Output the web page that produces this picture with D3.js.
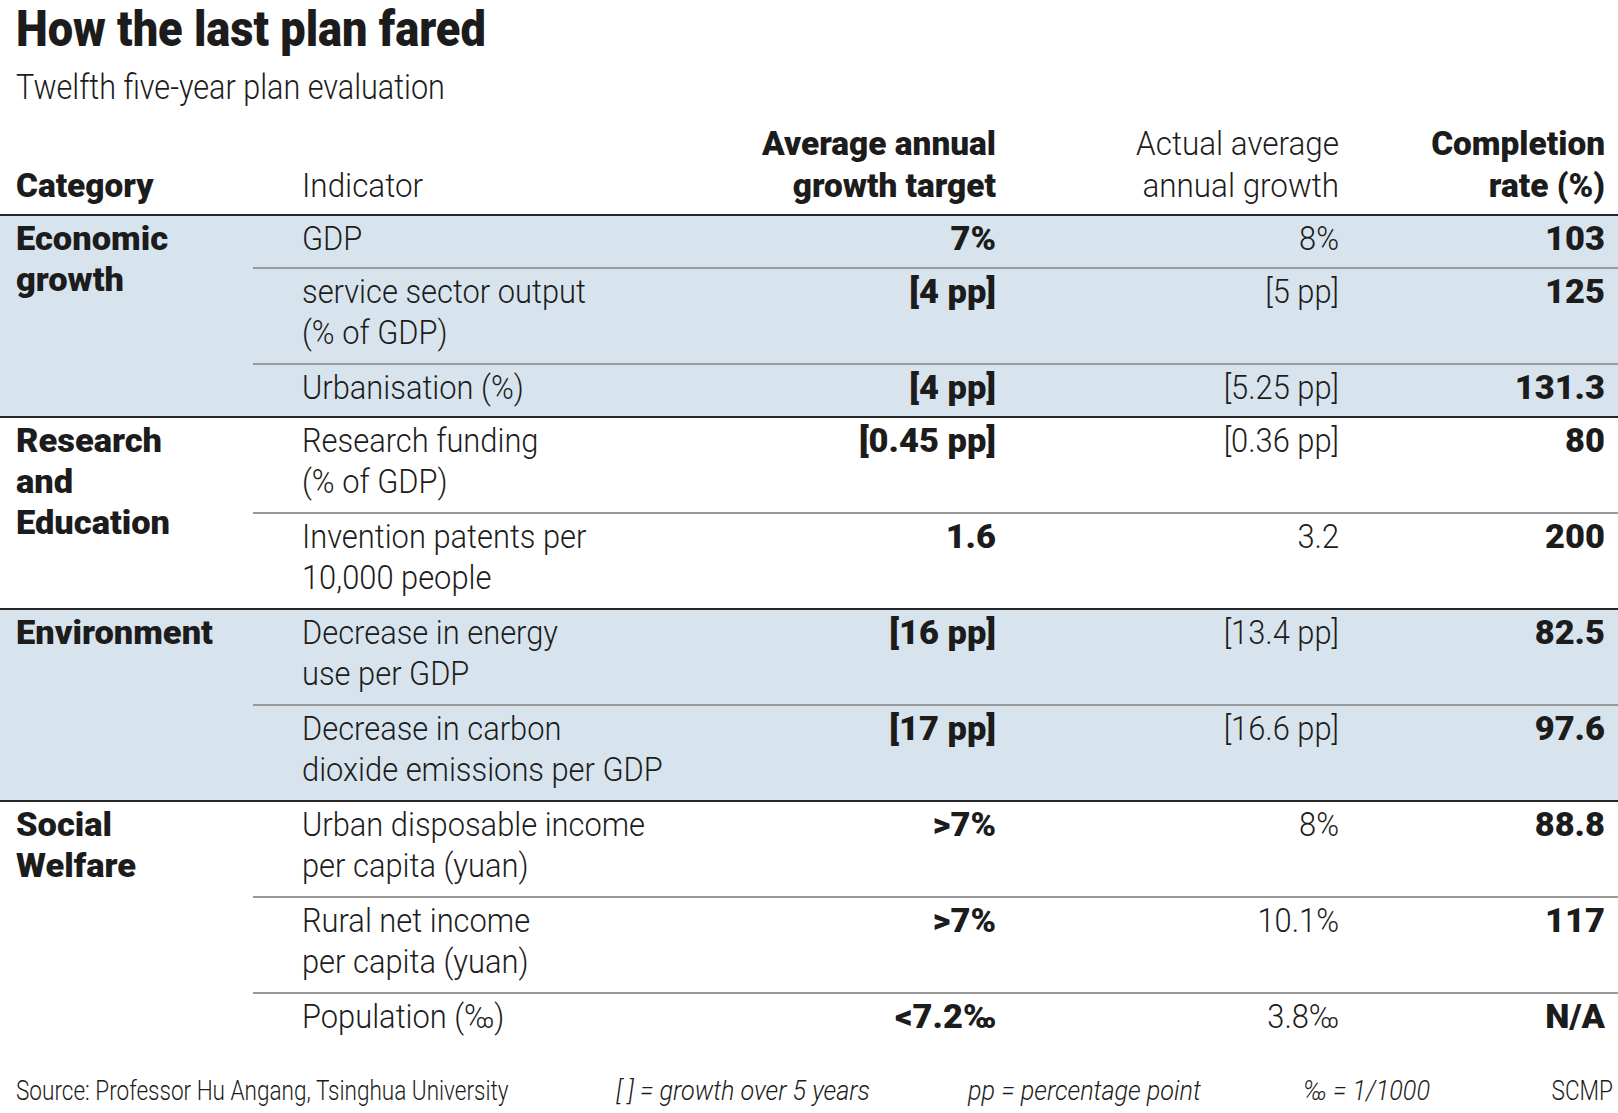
<!DOCTYPE html>
<html><head><meta charset="utf-8">
<script src="https://cdn.jsdelivr.net/npm/d3@7"></script>
<style>
html,body{margin:0;padding:0;background:#fff;}
svg{display:block;font-family:Roboto,"Open Sans","DejaVu Sans",sans-serif;}
</style></head>
<body><svg id="c" width="1618" height="1113"></svg>
<script>
// ---------- data ----------
const title = "How the last plan fared";
const subtitle = "Twelfth five-year plan evaluation";
const headerCategory = ["Category"];
const headerIndicator = ["Indicator"];
const headerTarget = ["Average annual", "growth target"];
const headerActual = ["Actual average", "annual growth"];
const headerCompletion = ["Completion", "rate (%)"];

const categories = [["Economic", "growth"], ["Research", "and", "Education"], ["Environment"], ["Social", "Welfare"]];
const shadedCategories = [true, false, true, false];
const rowCategory = [0, 0, 0, 1, 1, 2, 2, 3, 3, 3];
const indicators = [
  ["GDP"],
  ["service sector output", "(% of GDP)"],
  ["Urbanisation (%)"],
  ["Research funding", "(% of GDP)"],
  ["Invention patents per", "10,000 people"],
  ["Decrease in energy", "use per GDP"],
  ["Decrease in carbon", "dioxide emissions per GDP"],
  ["Urban disposable income", "per capita (yuan)"],
  ["Rural net income", "per capita (yuan)"],
  ["Population (‰)"]
];
const targets = ["7%", "[4 pp]", "[4 pp]", "[0.45 pp]", "1.6", "[16 pp]", "[17 pp]", ">7%", ">7%", "<7.2‰"];
const actuals = ["8%", "[5 pp]", "[5.25 pp]", "[0.36 pp]", "3.2", "[13.4 pp]", "[16.6 pp]", "8%", "10.1%", "3.8‰"];
const completion = ["103", "125", "131.3", "80", "200", "82.5", "97.6", "88.8", "117", "N/A"];

const footSource = "Source: Professor Hu Angang, Tsinghua University";
const footNotes = ["[ ] = growth over 5 years", "pp = percentage point", "‰ = 1/1000"];
const footCredit = "SCMP";

// ---------- layout ----------
const W = 1618, H = 1113;
const svg = d3.select("#c");
const INK = "#1c1c1c";
const BAND = "#d8e4ed";

// measurement helper for condensed look
const meas = svg.append("text").attr("x", -9999).attr("y", -9999);
function measure(str, size, weight, italic) {
  meas.text(str).attr("font-size", size).attr("font-weight", weight)
    .attr("font-style", italic ? "italic" : "normal");
  return meas.node().getComputedTextLength();
}
const S = {
  title: {size: 50, weight: 900},
  sub: {size: 35, weight: 300},
  hb: {size: 34, weight: 900},
  hl: {size: 34, weight: 300},
  bb: {size: 33, weight: 900},
  bl: {size: 33, weight: 300},
  fl: {size: 28, weight: 300},
  fi: {size: 28, weight: 300, italic: true}
};
S.title.sx = 470 / measure(title, S.title.size, S.title.weight);
S.sub.sx = 429 / measure(subtitle, S.sub.size, S.sub.weight);
S.hb.sx = 234 / measure("Average annual", S.hb.size, S.hb.weight);
S.hl.sx = 203 / measure("Actual average", S.hl.size, S.hl.weight);
S.bb.sx = 197 / measure("Environment", S.bb.size, S.bb.weight);
S.bl.sx = 361 / measure("dioxide emissions per GDP", S.bl.size, S.bl.weight);
S.fl.sx = 493 / measure(footSource, S.fl.size, S.fl.weight);
S.fi.sx = 254 / measure(footNotes[0], S.fi.size, S.fi.weight, true);
meas.remove();

function txt(parent, x, y, str, st, anchor) {
  return parent.append("text")
    .attr("transform", `translate(${x},${y}) scale(${st.sx},1)`)
    .attr("text-anchor", anchor || "start")
    .attr("font-size", st.size)
    .attr("font-weight", st.weight)
    .attr("font-style", st.italic ? "italic" : "normal")
    .attr("fill", INK)
    .text(str);
}

// column positions
const col = d3.scaleOrdinal()
  .domain(["cat", "ind", "target", "actual", "comp"])
  .range([16, 302, 996, 1339, 1605]);
const innerLineX = 253;

// rows: vertical scale on weighted line units
const rowWeight = indicators.map(l => l.length + 10 / 43);
const cum = [0];
rowWeight.forEach(w => cum.push(cum[cum.length - 1] + w));
const y = d3.scaleLinear().domain([0, cum[cum.length - 1]]).range([215, 1046]);
const rowTop = i => y(cum[i]);
const rowBot = i => y(cum[i + 1]);
const BASE = 35, LEAD = 41;

// category extents
const catRange = categories.map((c, ci) => {
  const idx = rowCategory.map((r, i) => r === ci ? i : -1).filter(i => i >= 0);
  return {first: d3.min(idx), last: d3.max(idx)};
});

// bands
svg.append("g").selectAll("rect")
  .data(categories.map((c, i) => i).filter(i => shadedCategories[i]))
  .join("rect")
  .attr("x", 0).attr("width", W)
  .attr("y", i => rowTop(catRange[i].first))
  .attr("height", i => rowBot(catRange[i].last) - rowTop(catRange[i].first))
  .attr("fill", BAND);

// thin lines between rows in same category
const thin = d3.range(1, indicators.length).filter(i => rowCategory[i] === rowCategory[i - 1]);
svg.append("g").selectAll("line").data(thin).join("line")
  .attr("x1", innerLineX).attr("x2", W)
  .attr("y1", i => rowTop(i)).attr("y2", i => rowTop(i))
  .attr("stroke", "#9a9a9a").attr("stroke-width", 2);

// thick lines at category starts
const thick = catRange.map(c => c.first);
svg.append("g").selectAll("line").data(thick).join("line")
  .attr("x1", 0).attr("x2", W)
  .attr("y1", i => rowTop(i)).attr("y2", i => rowTop(i))
  .attr("stroke", "#262626").attr("stroke-width", 2.2);

// title
txt(svg, 16, 46, title, S.title);
txt(svg, 16, 99, subtitle, S.sub);

// header
const hg = svg.append("g");
const HY2 = 197;
function headerCol(lines, x, st, anchor) {
  lines.forEach((l, k) => txt(hg, x, HY2 - (lines.length - 1 - k) * 42, l, st, anchor));
}
headerCol(headerCategory, col("cat"), S.hb);
headerCol(headerIndicator, col("ind"), S.hl);
headerCol(headerTarget, col("target"), S.hb, "end");
headerCol(headerActual, col("actual"), S.hl, "end");
headerCol(headerCompletion, col("comp"), S.hb, "end");

// categories
const cg = svg.append("g");
categories.forEach((lines, ci) => {
  const t = rowTop(catRange[ci].first) + BASE;
  lines.forEach((l, k) => txt(cg, col("cat"), t + k * LEAD, l, S.bb));
});

// rows
const rg = svg.append("g");
indicators.forEach((lines, i) => {
  const t = rowTop(i) + BASE;
  lines.forEach((l, k) => txt(rg, col("ind"), t + k * LEAD, l, S.bl));
  txt(rg, col("target"), t, targets[i], S.bb, "end");
  txt(rg, col("actual"), t, actuals[i], S.bl, "end");
  txt(rg, col("comp"), t, completion[i], S.bb, "end");
});

// footer
const FY = 1100;
const fg = svg.append("g");
txt(fg, 16, FY, footSource, S.fl);
const footX = [616, 968, 1303];
footNotes.forEach((n, i) => txt(fg, footX[i], FY, n, S.fi));
txt(fg, 1613, FY, footCredit, S.fl, "end");
</script>
</body></html>
